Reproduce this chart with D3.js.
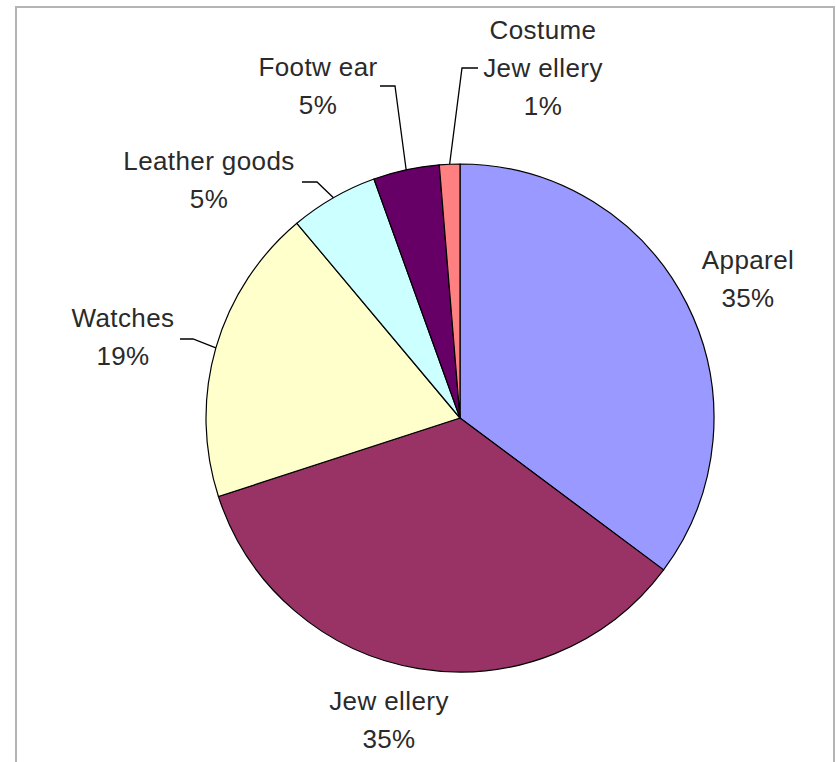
<!DOCTYPE html>
<html>
<head>
<meta charset="utf-8">
<title>Luxury segments</title>
<script src="https://d3js.org/d3.v7.min.js"></script>
<style>
    body { margin: 0; background: #fff; }
    text { font-family: "Liberation Sans", Arial, sans-serif; font-size: 26px; fill: #2a2a2a; letter-spacing: 0.4px; }
</style>
</head>
<body>
<div id="pie"></div>
<script>
    // slice shares (clockwise from 12 o'clock)
    var categories = ["Apparel", "Jewellery", "Watches", "Leather goods", "Footwear", "Costume Jewellery"];
    var values = [35.2, 34.8, 18.9, 5.6, 4.2, 1.3];
    var pctLabels = ["35%", "35%", "19%", "5%", "5%", "1%"];
    // label lines as they appear in the chart
    var nameLines = [["Apparel"], ["Jew ellery"], ["Watches"], ["Leather goods"], ["Footw ear"], ["Costume", "Jew ellery"]];
    var colors = ["#9999ff", "#993366", "#ffffcc", "#ccffff", "#660066", "#ff8080"];

    var width = 836, height = 762;
    var cx = 460, cy = 418, radius = 254;
    var lineH = 38;

    // where each label sits, and the elbow/end of its leader line (null = none)
    var labelPos = [
        {x: 748, y: 260, leader: null},
        {x: 389, y: 701, leader: null},
        {x: 123, y: 318, leader: [[193, 339], [180, 339]]},
        {x: 209, y: 161, leader: [[317, 182], [302, 182]]},
        {x: 318, y: 67,  leader: [[395, 86], [380, 86]]},
        {x: 543, y: 30,  leader: [[462, 68], [478, 68]]}
    ];

    var data = categories.map(function(c, i) {
        return {name: c, value: values[i], pct: pctLabels[i], lines: nameLines[i], pos: labelPos[i]};
    });

    var color = d3.scaleOrdinal().domain(categories).range(colors);

    var svg = d3.select("#pie").append("svg")
        .attr("width", width)
        .attr("height", height);

    // frame (bottom edge runs off the picture)
    svg.append("path")
        .attr("d", "M16,762 L16,7 L834,7 L834,762")
        .attr("fill", "none")
        .attr("stroke", "#b4b4b4")
        .attr("stroke-width", 2);

    var pie = d3.pie().sort(null).value(function(d) { return d.value; })(data);
    var arc = d3.arc().outerRadius(radius).innerRadius(0);
    var outer = d3.arc().outerRadius(radius).innerRadius(radius);

    var g = svg.append("g").attr("transform", "translate(" + cx + "," + cy + ")");

    g.selectAll("path.slice").data(pie).enter()
        .append("path")
        .attr("class", "slice")
        .attr("d", arc)
        .attr("fill", function(d) { return color(d.data.name); })
        .attr("stroke", "#000")
        .attr("stroke-width", 1.2)
        .attr("stroke-linejoin", "round");

    // leader lines from the slice rim to the label
    svg.selectAll("path.leader").data(pie.filter(function(d) { return d.data.pos.leader; })).enter()
        .append("path")
        .attr("class", "leader")
        .attr("d", function(d) {
            var c = outer.centroid(d);
            var pts = [[cx + c[0], cy + c[1]]].concat(d.data.pos.leader);
            return d3.line()(pts);
        })
        .attr("fill", "none")
        .attr("stroke", "#000")
        .attr("stroke-width", 1.3);

    var labels = svg.selectAll("text.lbl").data(data).enter()
        .append("text")
        .attr("class", "lbl")
        .attr("text-anchor", "middle");

    labels.each(function(d) {
        var t = d3.select(this);
        var rows = d.lines.concat([d.pct]);
        rows.forEach(function(r, i) {
            t.append("tspan")
                .attr("x", d.pos.x)
                .attr("y", d.pos.y + i * lineH)
                .attr("dy", "0.35em")
                .text(r);
        });
    });
</script>
</body>
</html>
